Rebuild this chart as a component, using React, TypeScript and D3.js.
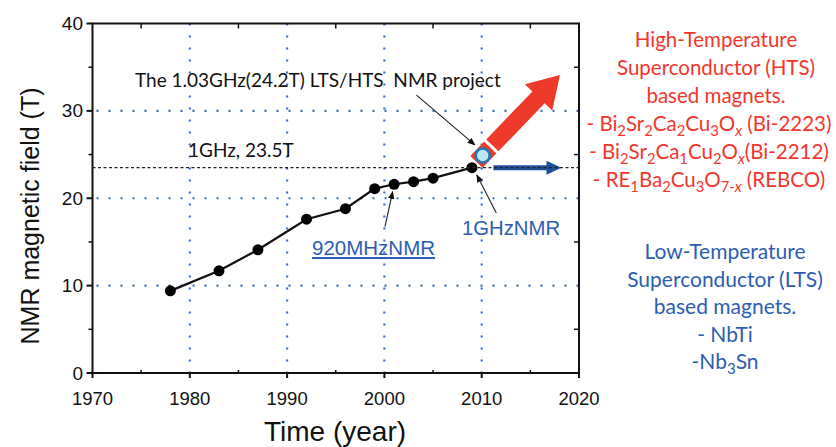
import React from "react";
import * as d3 from "d3";

const years = [1978, 1983, 1987, 1992, 1996, 1999, 2001, 2003, 2005, 2009];
const fields = [9.4, 11.7, 14.1, 17.6, 18.8, 21.1, 21.6, 21.9, 22.3, 23.5];
const xTicks = [1970, 1980, 1990, 2000, 2010, 2020];
const yTicks = [0, 10, 20, 30, 40];
const xMinor = [1975, 1985, 1995, 2005, 2015];
const yMinor = [5, 15, 25, 35];
const gridX = [1980, 1990, 2000, 2010];
const gridY = [10, 20, 30];
const refField = 23.5;
const htsPoint = { year: 2010.1, field: 24.9 };
const redArrowTip = { year: 2018.05, field: 34.1 };
const blueArrow = { from: 2011.2, to: 2018.2, field: 23.5 };
const projectArrow = [[2003.3, 31.8], [2009.3, 26.1]];
const mhz920Arrow = [[2000.06, 16.74], [2000.85, 20.75]];
const ghzArrow = [[2011.5, 18.3], [2009.5, 22.66]];

const htsLines = [
  [["High-Temperature"]],
  [["Superconductor (HTS)"]],
  [["based magnets."]],
  [["- Bi"], ["2", "sub"], ["Sr"], ["2", "sub"], ["Ca"], ["2", "sub"], ["Cu"], ["3", "sub"], ["O"], ["x", "subi"], [" (Bi-2223)"]],
  [["- Bi"], ["2", "sub"], ["Sr"], ["2", "sub"], ["Ca"], ["1", "sub"], ["Cu"], ["2", "sub"], ["O"], ["x", "subi"], ["(Bi-2212)"]],
  [["- RE"], ["1", "sub"], ["Ba"], ["2", "sub"], ["Cu"], ["3", "sub"], ["O"], ["7-", "sub"], ["x", "subi"], [" (REBCO)"]],
];
const ltsLines = [
  [["Low-Temperature"]],
  [["Superconductor (LTS)"]],
  [["based magnets."]],
  [["- NbTi"]],
  [["-Nb"], ["3", "sub"], ["Sn"]],
];

const W = 836, H = 447;
const x = d3.scaleLinear().domain([1970, 2020]).range([92.5, 579]);
const y = d3.scaleLinear().domain([0, 40]).range([373, 23.5]);

const SANS = "'Liberation Sans', Arial, sans-serif";
const HUM = "Lato, 'Open Sans', sans-serif";
const GRID = "#3a6fc6";
const RED = "#f2362b";
const BLUE = "#2d5db3";

function RichLine({ parts, cx, yb, size, color }: any) {
  const kids: any[] = [];
  let shifted = false;
  parts.forEach((p: any, i: number) => {
    const kind = p[1];
    const sub = kind === "sub" || kind === "subi";
    let dy: number | undefined = undefined;
    if (sub && !shifted) { dy = size * 0.25; shifted = true; }
    if (!sub && shifted) { dy = -size * 0.25; shifted = false; }
    kids.push(
      <tspan key={i} dy={dy} fontSize={sub ? size * 0.72 : size} fontStyle={kind === "subi" ? "italic" : "normal"}>
        {p[0]}
      </tspan>
    );
  });
  return (
    <text x={cx} y={yb} textAnchor="middle" fill={color} fontFamily={HUM} fontSize={size}>
      {kids}
    </text>
  );
}

export default function App() {
  const line = d3.line<number>().x((_, i) => x(years[i])).y((d) => y(d));
  const cxh = x(htsPoint.year), cyh = y(htsPoint.field);
  const tx = x(redArrowTip.year), ty = y(redArrowTip.field);
  const len = Math.hypot(tx - cxh, ty - cyh);
  const ux = (tx - cxh) / len, uy = (ty - cyh) / len;
  const nx = -uy, ny = ux;
  const hw = 8.5, headW = 19, headL = 31;
  const bx = tx - ux * headL, by = ty - uy * headL;
  const sx = cxh - ux * 9, sy = cyh - uy * 9;
  const redPoly = [
    [sx + nx * hw, sy + ny * hw],
    [bx + nx * hw, by + ny * hw],
    [bx + nx * headW, by + ny * headW],
    [tx, ty],
    [bx - nx * headW, by - ny * headW],
    [bx - nx * hw, by - ny * hw],
    [sx - nx * hw, sy - ny * hw],
  ].map((p) => p.join(",")).join(" ");
  const gx = cxh + ux * 12.5, gy = cyh + uy * 12.5;

  const bY = y(blueArrow.field);
  const bx0 = x(blueArrow.from), bx1 = x(blueArrow.to);

  const thinArrow = (a: number[][], key: string) => (
    <line key={key} x1={x(a[0][0])} y1={y(a[0][1])} x2={x(a[1][0])} y2={y(a[1][1])}
      stroke="#222" strokeWidth={1.1} markerEnd="url(#ah)" />
  );

  return (
    <svg width={W} height={H} style={{ position: "absolute", left: 0, top: 0, background: "#fff" }}>
      <defs>
        <marker id="ah" viewBox="0 0 10 10" refX="9" refY="5" markerWidth="8" markerHeight="8"
          markerUnits="userSpaceOnUse" orient="auto">
          <path d="M0,1 L10,5 L0,9 Z" fill="#111" />
        </marker>
      </defs>
      <rect width={W} height={H} fill="#fff" />

      {gridX.map((v) => (
        <line key={"gx" + v} x1={x(v)} x2={x(v)} y1={y(40)} y2={y(0)} stroke={GRID}
          strokeWidth={2.2} strokeDasharray="2 10" />
      ))}
      {gridY.map((v) => (
        <line key={"gy" + v} x1={x(1970)} x2={x(2020)} y1={y(v)} y2={y(v)} stroke={GRID}
          strokeWidth={2.2} strokeDasharray="2 10" strokeDashoffset={-4} />
      ))}

      <rect x={x(1970)} y={y(40)} width={x(2020) - x(1970)} height={y(0) - y(40)} fill="none"
        stroke="#111" strokeWidth={2} />
      {xTicks.map((v) => (
        <line key={"xt" + v} x1={x(v)} x2={x(v)} y1={y(0)} y2={y(0) + 5} stroke="#111" strokeWidth={2} />
      ))}
      {xMinor.map((v) => (
        <g key={"xm" + v}>
          <line x1={x(v)} x2={x(v)} y1={y(0)} y2={y(0) - 3} stroke="#111" strokeWidth={1.5} />
          <line x1={x(v)} x2={x(v)} y1={y(40)} y2={y(40) + 5} stroke="#111" strokeWidth={1.5} />
        </g>
      ))}
      {yTicks.map((v) => (
        <line key={"yt" + v} x1={x(1970) - 6} x2={x(1970)} y1={y(v)} y2={y(v)} stroke="#111" strokeWidth={2} />
      ))}
      {yMinor.map((v) => (
        <g key={"ym" + v}>
          <line x1={x(1970) - 4} x2={x(1970)} y1={y(v)} y2={y(v)} stroke="#111" strokeWidth={1.5} />
          <line x1={x(2020) - 5} x2={x(2020)} y1={y(v)} y2={y(v)} stroke="#111" strokeWidth={1.5} />
        </g>
      ))}
      {xTicks.map((v) => (
        <text key={"xl" + v} x={x(v)} y={405} textAnchor="middle" fontFamily={SANS} fontSize={18.5} fill="#111">
          {v}
        </text>
      ))}
      {yTicks.map((v) => (
        <text key={"yl" + v} x={83} y={y(v) + 6.5} textAnchor="end" fontFamily={SANS} fontSize={19} fill="#111">
          {v}
        </text>
      ))}
      <text x={335} y={441} textAnchor="middle" fontFamily={SANS} fontSize={28} fill="#111">Time (year)</text>
      <text transform={`translate(39,${216}) rotate(-90)`} textAnchor="middle" fontFamily={SANS}
        fontSize={25} fill="#111">NMR magnetic field (T)</text>

      <path d={line(fields) || ""} fill="none" stroke="#111" strokeWidth={2.2} />
      {fields.map((v, i) => (
        <circle key={"p" + i} cx={x(years[i])} cy={y(v)} r={5.5} fill="#000" />
      ))}

      <line x1={bx0} x2={bx1 - 12} y1={bY} y2={bY} stroke="#1f4f9f" strokeWidth={5} />
      <path d={`M${bx1},${bY} L${bx1 - 15},${bY - 7} L${bx1 - 15},${bY + 7} Z`} fill="#1f4f9f" />

      <line x1={x(1970)} x2={x(2020)} y1={y(refField)} y2={y(refField)} stroke="#222" strokeWidth={1.2}
        strokeDasharray="3 2.5" />

      <polygon points={redPoly} fill="#ee3a2a" />
      <line x1={gx + nx * 11} y1={gy + ny * 11} x2={gx - nx * 11} y2={gy - ny * 11} stroke="#fff" strokeWidth={3} />
      <circle cx={cxh} cy={cyh} r={7} fill="#bfe5f4" stroke="#1c7ab7" strokeWidth={2.6} />

      {thinArrow(projectArrow, "pa")}
      {thinArrow(mhz920Arrow, "ma")}
      {thinArrow(ghzArrow, "ga")}
      <text x={135} y={87} fontFamily={HUM} fontSize={19} fill="#111">{"The 1.03GHz(24.2T) LTS/HTS \u00a0NMR project"}</text>
      <text x={188} y={157} fontFamily={HUM} fontSize={19} fill="#111">1GHz, 23.5T</text>
      <text x={312} y={255} fontFamily={SANS} fontSize={20.5} fill={BLUE} textDecoration="underline">920MHzNMR</text>
      <text x={462} y={235} fontFamily={SANS} fontSize={20.3} fill={BLUE}>1GHzNMR</text>

      {htsLines.map((parts, i) => (
        <RichLine key={"h" + i} parts={parts} cx={i < 3 ? 716 : 709} yb={47 + i * 28} size={20.5} color={RED} />
      ))}
      {ltsLines.map((parts, i) => (
        <RichLine key={"l" + i} parts={parts} cx={725} yb={259 + i * 27.5} size={21} color={BLUE} />
      ))}
    </svg>
  );
}
